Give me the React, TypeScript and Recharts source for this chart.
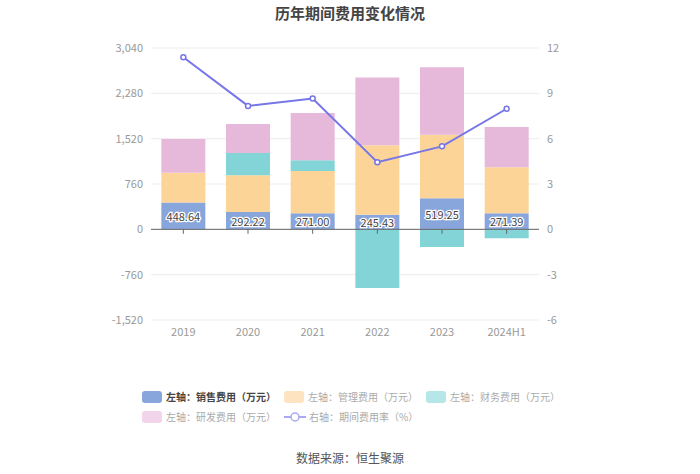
import React from 'react';
import {
  ComposedChart,
  Bar,
  Line,
  XAxis,
  YAxis,
  CartesianGrid,
  ReferenceLine,
  LabelList,
} from 'recharts';

const years = ['2019', '2020', '2021', '2022', '2023', '2024H1'];
const sales = [448.64, 292.22, 271.0, 245.43, 519.25, 271.39];
const admin = [498, 615, 709, 1163, 1068, 770];
const finance = [0, 374, 178, -985, -295, -150];
const rnd = [568, 484, 791, 1136, 1130, 674];
const rate = [11.39, 8.17, 8.66, 4.44, 5.49, 7.98];

const leftTicks = [-1520, -760, 0, 760, 1520, 2280, 3040];
const rightTicks = [-6, -3, 0, 3, 6, 9, 12];

const C_SALES = '#88a6db';
const C_ADMIN = '#fdd497';
const C_FIN = '#82d4d6';
const C_RND = '#e6b8da';
const C_LINE = '#7676e8';

const data = years.map((y, i) => ({
  year: y,
  sales: sales[i],
  admin: admin[i],
  finance: finance[i],
  rnd: rnd[i],
  rate: rate[i],
}));

const FONT = '"Noto Sans CJK SC", "Noto Sans", sans-serif';

const legendItems = [
  { label: '左轴：销售费用（万元）', color: C_SALES, active: true },
  { label: '左轴：管理费用（万元）', color: '#fde3bf' },
  { label: '左轴：财务费用（万元）', color: '#b6e7e8' },
  { label: '左轴：研发费用（万元）', color: '#f2d5ea' },
  { label: '右轴：期间费用率（%）', color: '#a9a9f0', line: true },
];

function ChartLegend() {
  return (
    <div style={{ position: 'absolute', left: 0, top: 391, width: 700, height: 50 }}>
      {legendItems.map((it, i) => {
        const col = i % 3;
        const row = Math.floor(i / 3);
        return (
          <div
            key={it.label}
            style={{
              position: 'absolute',
              left: 142 + col * 142,
              top: row * 20,
              display: 'flex',
              alignItems: 'center',
              fontSize: 10,
              lineHeight: '12px',
              color: it.active ? '#444' : '#aaa',
              fontWeight: it.active ? 600 : 400,
              whiteSpace: 'nowrap',
            }}
          >
            {it.line ? (
              <svg width={22} height={12} style={{ marginRight: 3 }}>
                <line x1={0} y1={6} x2={22} y2={6} stroke={it.color} strokeWidth={2} />
                <circle cx={11} cy={6} r={4} fill="#fff" stroke={it.color} strokeWidth={1.5} />
              </svg>
            ) : (
              <span
                style={{
                  display: 'inline-block',
                  width: 20,
                  height: 12,
                  borderRadius: 3,
                  background: it.color,
                  marginRight: 4,
                }}
              />
            )}
            {it.label}
          </div>
        );
      })}
    </div>
  );
}

const salesLabel = (props: any) => {
  const { x, y, width, height, value } = props;
  return (
    <text
      x={x + width / 2}
      y={y + height / 2}
      textAnchor="middle"
      dominantBaseline="central"
      fontSize={11}
      fontFamily={FONT}
      fill="#444"
      stroke="#fff"
      strokeWidth={2.5}
      paintOrder="stroke"
    >
      {Number(value).toFixed(2)}
    </text>
  );
};

export default function App() {
  return (
    <div style={{ position: 'absolute', left: 0, top: 0, width: 700, height: 474, background: '#fff', fontFamily: FONT }}>
      <div
        style={{
          position: 'absolute',
          top: 2,
          width: 700,
          textAlign: 'center',
          fontSize: 15,
          fontWeight: 700,
          color: '#444',
        }}
      >
        历年期间费用变化情况
      </div>
      <ComposedChart
        width={700}
        height={474}
        data={data}
        stackOffset="sign"
        margin={{ top: 48, right: 121, bottom: 124, left: 91 }}
        barCategoryGap="16%"
      >
        <CartesianGrid yAxisId="left" vertical={false} stroke="#ececec" />
        <XAxis
          dataKey="year"
          axisLine={false}
          tickLine={false}
          height={30}
          tick={{ fill: '#999', fontSize: 11 }}
        />
        <YAxis
          yAxisId="left"
          width={60}
          domain={[-1520, 3040]}
          ticks={leftTicks}
          axisLine={false}
          tickLine={false}
          tick={{ fill: '#999', fontSize: 11 }}
          tickFormatter={(v) => v.toLocaleString('en-US')}
        />
        <YAxis
          yAxisId="right"
          orientation="right"
          width={40}
          domain={[-6, 12]}
          ticks={rightTicks}
          axisLine={false}
          tickLine={false}
          tick={{ fill: '#999', fontSize: 11 }}
        />
        <ReferenceLine yAxisId="left" y={0} stroke="#666" />
        {years.map((y) => (
          <ReferenceLine
            key={y}
            yAxisId="left"
            segment={[
              { x: y, y: 0 },
              { x: y, y: -75 },
            ]}
            stroke="#666"
          />
        ))}
        <Bar yAxisId="left" dataKey="sales" stackId="a" fill={C_SALES} isAnimationActive={false}>
          <LabelList dataKey="sales" content={salesLabel} />
        </Bar>
        <Bar yAxisId="left" dataKey="admin" stackId="a" fill={C_ADMIN} isAnimationActive={false} />
        <Bar yAxisId="left" dataKey="finance" stackId="a" fill={C_FIN} isAnimationActive={false} />
        <Bar yAxisId="left" dataKey="rnd" stackId="a" fill={C_RND} isAnimationActive={false} />
        <Line
          yAxisId="right"
          dataKey="rate"
          stroke={C_LINE}
          strokeWidth={2}
          dot={{ r: 2.5, fill: '#fff', stroke: C_LINE, strokeWidth: 1.5 }}
          isAnimationActive={false}
        />
      </ComposedChart>
      <ChartLegend />
      <div
        style={{
          position: 'absolute',
          top: 449,
          width: 700,
          textAlign: 'center',
          fontSize: 12,
          color: '#555',
        }}
      >
        数据来源：恒生聚源
      </div>
    </div>
  );
}
